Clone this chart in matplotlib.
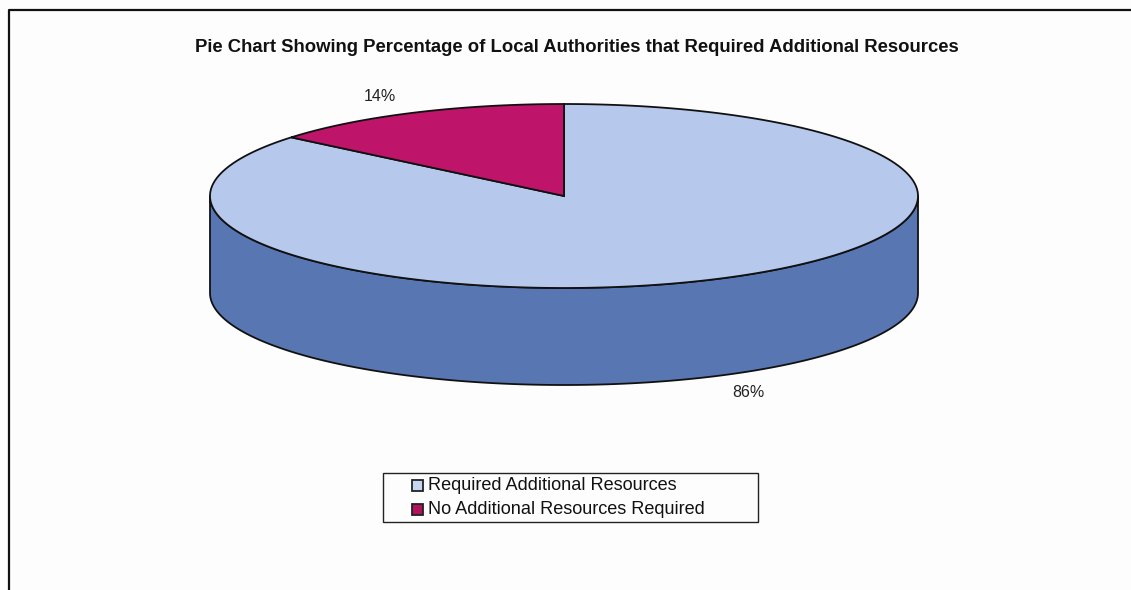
import numpy as np
import matplotlib
matplotlib.use("Agg")
import matplotlib.pyplot as plt
from matplotlib.patches import Polygon, Rectangle

plt.rcParams['font.family'] = ['Liberation Sans', 'DejaVu Sans']

# Data
categories = ["Required Additional Resources", "No Additional Resources Required"]
values = [86, 14]
pct_labels = ["86%", "14%"]
top_colors = ["#b6c9ed", "#be1469"]
side_colors = ["#5876b1", "#8a0e4c"]
legend_colors = ["#c4d6f2", "#b0125e"]
title = "Pie Chart Showing Percentage of Local Authorities that Required Additional Resources"

W, H = 1131, 590
fig = plt.figure(figsize=(W / 100, H / 100), dpi=100)
fig.patch.set_facecolor("#fdfdfd")
ax = fig.add_axes([0, 0, 1, 1])
ax.set_xlim(0, W)
ax.set_ylim(H, 0)
ax.axis("off")

# Outer chart frame (left and top edges visible)
ax.plot([9, 9, W + 5], [H + 5, 10, 10], color="#111111", lw=1.6, solid_capstyle="butt")

# Pie geometry (pixel space, y downward)
cx, cy = 564, 196
a, b = 354, 92
depth = 97


def ell(theta_deg, dy=0.0):
    t = np.radians(theta_deg)
    return cx + a * np.cos(t), cy - b * np.sin(t) + dy


# slice angles: start at 12 o'clock, clockwise
fracs = np.array(values, dtype=float) / np.sum(values)
starts = []
ang = 90.0
for f in fracs:
    starts.append((ang, ang - 360 * f))
    ang -= 360 * f

# side wall (front half: 180° .. 360°), coloured by the slice covering each part
for (t0, t1), sc in zip(starts, side_colors):
    lo, hi = min(t0, t1), max(t0, t1)
    segs = []
    for shift in (-360, 0, 360):
        s0, s1 = max(lo + shift, 180), min(hi + shift, 360)
        if s1 > s0:
            segs.append((s0, s1))
    for s0, s1 in segs:
        th = np.linspace(s0, s1, 200)
        xs, ys = ell(th)
        xb, yb = ell(th[::-1], depth)
        poly = np.column_stack([np.r_[xs, xb], np.r_[ys, yb]])
        ax.add_patch(Polygon(poly, closed=True, facecolor=sc, edgecolor="#111111",
                             lw=1.3, joinstyle="round", zorder=2))

# top face wedges
for (t0, t1), tc in zip(starts, top_colors):
    th = np.linspace(t0, t1, 400)
    xs, ys = ell(th)
    poly = np.column_stack([np.r_[cx, xs], np.r_[cy, ys]])
    ax.add_patch(Polygon(poly, closed=True, facecolor=tc, edgecolor="#111111",
                         lw=1.3, joinstyle="miter", zorder=3))

# percentage labels outside the slices
for (t0, t1), lab in zip(starts, pct_labels):
    mid = (t0 + t1) / 2
    s = np.sin(np.radians(mid))
    x, y = cx + a * 1.22 * np.cos(np.radians(mid)), cy - b * 1.2 * s
    if s < 0:
        y += depth
    ax.text(x, y, lab, ha="center", va="center", fontsize=11.5, color="#222222", zorder=5)

# title
ax.text(577, 48, title, ha="center", va="center", fontsize=13.3, fontweight="bold",
        color="#111111")

# legend box
lx0, ly0, lx1, ly1 = 383, 473, 758, 522
ax.add_patch(Rectangle((lx0, ly0), lx1 - lx0, ly1 - ly0, facecolor="#fdfdfd",
                       edgecolor="#222222", lw=1.0, zorder=4))
row_y = [485, 509]
for yy, col, name in zip(row_y, legend_colors, categories):
    ax.add_patch(Rectangle((412, yy - 5.5), 11, 11, facecolor=col, edgecolor="#222222",
                           lw=1.3, zorder=5))
    ax.text(428, yy, name, ha="left", va="center", fontsize=13.1, color="#111111", zorder=5)

fig.savefig("out.png", dpi=100, facecolor=fig.get_facecolor())
